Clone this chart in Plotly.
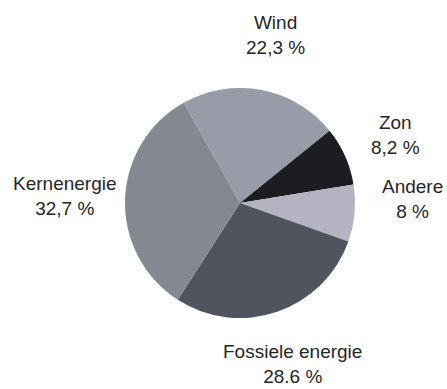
import plotly.graph_objects as go

# Energy mix shares (percent)
labels = ["Wind", "Zon", "Andere", "Fossiele energie", "Kernenergie"]
values = [22.3, 8.2, 8, 28.6, 32.7]
pct_text = ["22,3 %", "8,2 %", "8 %", "28.6 %", "32,7 %"]
colors = ["#979ca8", "#1d1d21", "#b4b3c2", "#50545f", "#848891"]

W, H = 447, 389
# label centres in pixels (x, y of the middle of the two-line block)
label_pos = [(275, 35), (395, 135), (412, 199), (292, 364), (65, 196)]

fig = go.Figure(go.Pie(
    labels=labels,
    values=values,
    sort=False,
    direction="clockwise",
    rotation=-29.3,
    marker=dict(colors=colors, line=dict(width=0)),
    textinfo="none",
    hoverinfo="label+percent",
    showlegend=False,
    domain=dict(x=[125 / W, 355 / W], y=[1 - 318 / H, 1 - 88 / H]),
))

for lab, txt, (px, py) in zip(labels, pct_text, label_pos):
    fig.add_annotation(
        x=px / W, y=1 - py / H, xref="paper", yref="paper",
        text=f"{lab}<br>{txt}", showarrow=False,
        xanchor="center", yanchor="middle", align="center",
        font=dict(family="Liberation Sans, Arial, sans-serif", size=19, color="#262626"),
    )

fig.update_layout(
    width=W, height=H,
    margin=dict(l=0, r=0, t=0, b=0),
    paper_bgcolor="white", plot_bgcolor="white",
)

fig.write_html("out.html")
